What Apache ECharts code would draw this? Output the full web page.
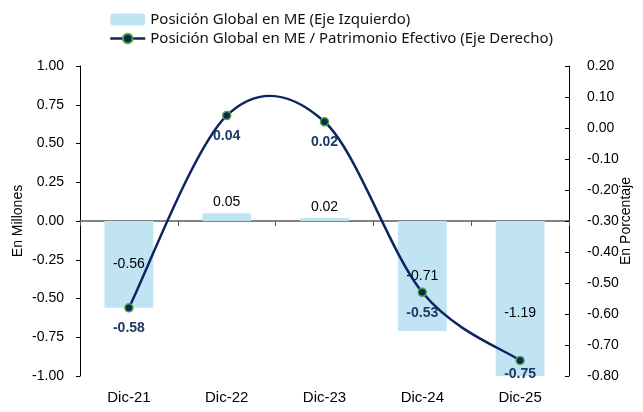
<!DOCTYPE html>
<html>
<head>
<meta charset="utf-8">
<script src="https://cdn.jsdelivr.net/npm/echarts@6/dist/echarts.min.js"></script>
<style>
  html, body { margin: 0; padding: 0; background: #fff; }
  #chart { width: 643px; height: 412px; }
</style>
</head>
<body>
<div id="chart"></div>
<script>
const categories = ['Dic-21', 'Dic-22', 'Dic-23', 'Dic-24', 'Dic-25']
const posicionME = [-0.56, 0.05, 0.02, -0.71, -1.19]
const ratioPatrimonio = [-0.58, 0.04, 0.02, -0.53, -0.75]
const leftTicks = [-1, 1, 0.25]
const rightTicks = [-0.8, 0.2, 0.1]

const textFont = 'Liberation Sans'
const barColor = '#C1E4F5'
const lineColor = '#0C2461'
const barName = 'Posición Global en ME (Eje Izquierdo)'
const lineName = 'Posición Global en ME / Patrimonio Efectivo (Eje Derecho)'

const chart = echarts.init(document.getElementById('chart'))

// excel-like smoothed segment (catmull-rom, tension 1/6) from point i to i+1
function renderSmoothSegment(params, api) {
  const i = params.dataIndex
  const n = ratioPatrimonio.length
  if (i >= n - 1) return null
  const pt = j => {
    const k = Math.max(0, Math.min(n - 1, j))
    return api.coord([k, ratioPatrimonio[k]])
  }
  const p0 = pt(i - 1), p1 = pt(i), p2 = pt(i + 1), p3 = pt(i + 2)
  const c1 = [p1[0] + (p2[0] - p0[0]) / 6, p1[1] + (p2[1] - p0[1]) / 6]
  const c2 = [p2[0] - (p3[0] - p1[0]) / 6, p2[1] - (p3[1] - p1[1]) / 6]
  return {
    type: 'bezierCurve',
    shape: { x1: p1[0], y1: p1[1], x2: p2[0], y2: p2[1], cpx1: c1[0], cpy1: c1[1], cpx2: c2[0], cpy2: c2[1] },
    style: { stroke: lineColor, lineWidth: 2.5, fill: null }
  }
}

const option = {
  animation: false,
  textStyle: { fontFamily: textFont },
  legend: {
    orient: 'vertical',
    left: 104,
    top: 7,
    itemGap: 4,
    itemWidth: 35,
    itemHeight: 12,
    textStyle: { fontSize: 15, color: '#111', fontFamily: 'Noto Sans' },
    data: [
      { name: barName },
      { name: lineName, lineStyle: { opacity: 1, color: lineColor, width: 2.5 } }
    ]
  },
  grid: { left: 80, right: 74, top: 66, bottom: 36, outerBoundsMode: 'none', containLabel: false },
  xAxis: [
    {
      type: 'category',
      data: categories,
      position: 'bottom',
      axisLine: { onZero: true, lineStyle: { color: '#595959', width: 1.5 } },
      axisTick: { show: true, length: 5, lineStyle: { color: '#595959' } },
      axisLabel: { show: false }
    },
    {
      type: 'category',
      data: categories,
      position: 'bottom',
      axisLine: { show: false, onZero: false },
      axisTick: { show: false },
      axisLabel: { margin: 14, fontSize: 15, color: '#000' }
    }
  ],
  yAxis: [
    {
      type: 'value',
      min: leftTicks[0],
      max: leftTicks[1],
      interval: leftTicks[2],
      name: 'En Millones',
      nameLocation: 'middle',
      nameRotate: 90,
      nameGap: 55,
      nameMoveOverlap: false,
      nameTextStyle: { fontSize: 14, color: '#000' },
      axisLine: { show: true, lineStyle: { color: '#000' } },
      axisTick: { show: true, length: 4, lineStyle: { color: '#000' } },
      axisLabel: { fontSize: 14, color: '#000', margin: 16, formatter: v => v.toFixed(2) },
      splitLine: { show: false }
    },
    {
      type: 'value',
      min: rightTicks[0],
      max: rightTicks[1],
      interval: rightTicks[2],
      position: 'right',
      name: 'En Porcentaje',
      nameLocation: 'middle',
      nameRotate: 90,
      nameGap: 50,
      nameMoveOverlap: false,
      nameTextStyle: { fontSize: 14, color: '#000' },
      axisLine: { show: true, lineStyle: { color: '#000' } },
      axisTick: { show: true, inside: true, length: 4, lineStyle: { color: '#000' } },
      axisLabel: { fontSize: 14, color: '#000', margin: 18, formatter: v => v.toFixed(2) },
      splitLine: { show: false }
    }
  ],
  series: [
    {
      name: barName,
      type: 'bar',
      xAxisIndex: 0,
      yAxisIndex: 0,
      barWidth: '50%',
      clip: true,
      itemStyle: { color: barColor },
      data: posicionME.map(v => {
        const item = { value: v }
        if (v >= 0) {
          item.label = { position: 'top', distance: 4 }
        } else if (v < leftTicks[0]) {
          item.label = { position: 'inside', offset: [0, 15] }
        }
        return item
      }),
      label: {
        show: true,
        position: 'inside',
        fontSize: 14,
        color: '#000',
        formatter: p => p.value.toFixed(2)
      },
      z: 1
    },
    {
      name: lineName + ' curve',
      type: 'custom',
      xAxisIndex: 0,
      yAxisIndex: 1,
      renderItem: renderSmoothSegment,
      data: ratioPatrimonio.map((v, i) => [i, v]),
      encode: { x: 0, y: 1 },
      silent: true,
      z: 2
    },
    {
      name: lineName,
      type: 'line',
      xAxisIndex: 0,
      yAxisIndex: 1,
      data: ratioPatrimonio.map((v, i) => {
        const item = { value: v }
        if (i === ratioPatrimonio.length - 1) item.label = { distance: 2 }
        return item
      }),
      symbol: 'circle',
      symbolSize: 8,
      lineStyle: { color: lineColor, width: 2.5, opacity: 0 },
      itemStyle: { color: lineColor, borderColor: '#4EA72E', borderWidth: 1.5 },
      label: {
        show: true,
        position: 'bottom',
        distance: 9,
        fontSize: 14,
        fontWeight: 'bold',
        color: '#1F3864',
        formatter: p => p.value.toFixed(2)
      },
      z: 3
    }
  ]
}

chart.setOption(option)
</script>
</body>
</html>
